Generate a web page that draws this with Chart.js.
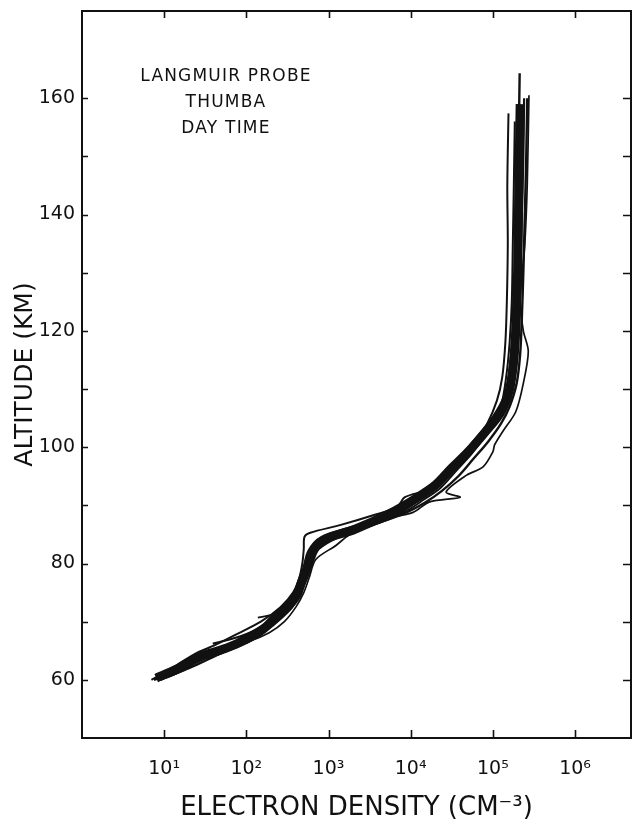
<!DOCTYPE html>
<html>
<head>
<meta charset="utf-8">
<script src="https://cdn.jsdelivr.net/npm/chart.js@4"></script>
<style>
  html, body { margin: 0; padding: 0; background: #fff; }
  #wrap { width: 632px; height: 821px; }
</style>
</head>
<body>
<div id="wrap"><canvas id="chart"></canvas></div>
<script>
// decade ticks on the density axis and labelled altitudes
const densityTicks = [10, 100, 1000, 10000, 100000, 1000000];
const altitudeLabels = [60, 80, 100, 120, 140, 160];
const noteLines = ['LANGMUIR PROBE', 'THUMBA', 'DAY TIME'];

// profile A - middle of the band
const altA = [60.3, 61.8, 63.2, 64.4, 65.5, 67, 68.7, 71, 72.4, 74.5, 76.8, 79, 81.9, 84, 85.9, 88.5, 91, 93.5, 96.3, 99.2, 102.7, 106, 110, 115, 120, 125, 130, 140, 150, 159];
const densA = [8, 14, 21, 33, 58, 100, 160, 235, 310, 410, 470, 540, 620, 850, 2100, 5400, 11000, 20000, 31000, 50000, 82000, 125000, 160000, 180000, 190000, 195000, 200000, 205000, 210000, 215000];

// profile B - upper left edge, left strand at the top
const altB = [60, 61.5, 63, 64.5, 66, 68, 70, 72.5, 75, 77.5, 80, 82.5, 84.6, 85.3, 86.6, 88.3, 89.7, 91.4, 92.8, 95, 98, 101, 104, 108, 112, 118, 125, 135, 145, 157.4];
const densB = [7, 11, 16, 24, 42, 80, 150, 260, 370, 440, 480, 500, 510, 600, 1380, 3500, 6800, 8500, 17000, 25000, 40000, 60000, 85000, 112000, 130000, 142000, 148000, 152000, 150000, 155000];

// profile C - lower right edge, loop near 91 km, bulge near 116 km
const altC = [60.3, 61.6, 63.5, 64.3, 66.4, 68.1, 70, 72.5, 75, 77.5, 80.7, 83.1, 84.9, 86.3, 87.5, 88.8, 90.6, 91.4, 92.3, 95.2, 96.6, 99.2, 100.4, 102.7, 106.1, 111, 116.5, 120, 125, 135, 145, 160.5];
const densC = [10, 15, 28, 45, 100, 190, 290, 400, 500, 580, 700, 1230, 1780, 3000, 4300, 10700, 17000, 40000, 27000, 48000, 76000, 100000, 105000, 132000, 190000, 235000, 270000, 235000, 215000, 245000, 262000, 275000];

// profile D - reaches highest
const altD = [60, 61.5, 63, 64.5, 66, 68, 70, 72, 74, 76, 78, 80, 82, 84, 86, 88, 90, 92, 94, 97, 100, 103, 106, 110, 115, 120, 130, 140, 150, 164.3];
const densD = [9, 16, 24, 40, 70, 120, 190, 270, 360, 440, 500, 560, 640, 900, 2500, 6000, 10000, 15000, 24000, 38000, 62000, 92000, 130000, 150000, 165000, 175000, 190000, 200000, 205000, 212000];

// profile E
const altE = [60.5, 62, 63.5, 65, 66.5, 68.5, 70.5, 72.5, 74.5, 76.5, 78.5, 80.5, 82.5, 84.5, 86.5, 88.5, 90.5, 92.5, 95, 98, 101, 104, 107, 111, 116, 122, 130, 140, 150, 160];
const densE = [11, 20, 34, 58, 105, 175, 260, 360, 440, 510, 580, 650, 760, 1300, 3200, 8000, 15000, 24000, 38000, 58000, 88000, 125000, 160000, 195000, 215000, 225000, 235000, 245000, 255000, 262000];

// profile F - starts at 66 km
const altF = [66.2, 67.5, 69, 71, 73, 75, 77, 79, 81, 83, 85, 87, 89, 91, 93, 96, 99, 102, 106, 110, 115, 120, 130, 140, 150, 160];
const densF = [39, 85, 150, 220, 300, 380, 450, 510, 580, 700, 1300, 3800, 8000, 13000, 21000, 33000, 52000, 78000, 120000, 155000, 185000, 200000, 215000, 225000, 235000, 240000];

// profile G - starts at 70.7 km
const altG = [70.7, 71.5, 73, 75, 77, 79, 81, 83, 85, 87, 89, 91, 93, 96, 99, 103, 107, 112, 118, 125, 135, 145, 156];
const densG = [138, 250, 330, 400, 460, 520, 600, 720, 1500, 4200, 8800, 14500, 23000, 36000, 56000, 90000, 125000, 145000, 160000, 170000, 175000, 180000, 185000];

// profile H
const altH = [60, 61, 62.5, 64, 65.5, 67.5, 69.5, 71.5, 73.5, 75.5, 77.5, 79.5, 81.5, 83.5, 85, 86.5, 88, 90, 92, 94.5, 97.5, 101, 105, 109, 114, 120, 128, 138, 148, 158];
const densH = [7.5, 12, 19, 28, 52, 95, 165, 245, 335, 420, 480, 530, 580, 680, 1000, 2200, 4500, 9000, 15000, 23000, 36000, 58000, 98000, 140000, 165000, 180000, 190000, 195000, 200000, 205000];

const sup = { 1: '\u00b9', 2: '\u00b2', 3: '\u00b3', 4: '\u2074', 5: '\u2075', 6: '\u2076' };
const ink = '#111';
const font = 'DejaVu Sans';

const toPoints = (alts, dens) => alts.map((a, i) => ({ x: dens[i], y: a }));

const profile = (alts, dens, width, extra) => Object.assign({
  data: toPoints(alts, dens),
  borderColor: ink,
  borderWidth: width,
  pointRadius: 0,
  tension: 0.3,
  fill: false,
}, extra || {});

// frame with inward ticks, plus the note in the upper left
const framePlugin = {
  id: 'frame',
  afterDraw(chart) {
    const { ctx, chartArea: a, scales: { x, y } } = chart;
    ctx.save();
    ctx.strokeStyle = ink;
    ctx.lineWidth = 2;
    ctx.strokeRect(a.left, a.top, a.right - a.left, a.bottom - a.top);
    ctx.lineWidth = 1.6;
    ctx.beginPath();
    densityTicks.forEach(v => {
      const px = Math.round(x.getPixelForValue(v)) + 0.5;
      ctx.moveTo(px, a.bottom); ctx.lineTo(px, a.bottom - 8);
      ctx.moveTo(px, a.top); ctx.lineTo(px, a.top + 7);
    });
    for (let v = 60; v <= 160; v += 10) {
      const py = Math.round(y.getPixelForValue(v)) + 0.5;
      ctx.moveTo(a.left, py); ctx.lineTo(a.left + 6, py);
      ctx.moveTo(a.right, py); ctx.lineTo(a.right - 8, py);
    }
    ctx.stroke();

    ctx.fillStyle = ink;
    ctx.font = '17px "' + font + '"';
    ctx.textAlign = 'center';
    ctx.textBaseline = 'middle';
    ctx.letterSpacing = '1.2px';
    noteLines.forEach((t, i) => {
      ctx.fillText(t, a.left + 144, a.top + 66 + i * 26);
    });
    ctx.restore();
  },
};

new Chart(document.getElementById('chart'), {
  type: 'line',
  data: {
    datasets: [
      profile(altA, densA, 9),
      profile(altB, densB, 2),
      profile(altC, densC, 1.7),
      profile(altD, densD, 2.4),
      profile(altE, densE, 2.4),
      profile(altF, densF, 2.2),
      profile(altG, densG, 2),
      profile(altH, densH, 2.6),
      // speckle inside the dark band
      profile(altA, densA, 1.6, { borderColor: '#fff', borderDash: [1.5, 4] }),
    ],
  },
  options: {
    responsive: true,
    maintainAspectRatio: false,
    animation: false,
    layout: { padding: { top: 11, right: 1, left: 0, bottom: 0 } },
    plugins: {
      legend: { display: false },
      tooltip: { enabled: false },
    },
    scales: {
      x: {
        type: 'logarithmic',
        min: 1,
        max: 4.8e6,
        grid: { display: false, drawTicks: false },
        border: { display: false },
        afterBuildTicks: scale => {
          scale.ticks = densityTicks.map(v => ({ value: v }));
        },
        afterFit: scale => {
          scale.height = 83;
          scale.paddingLeft = 0;
          scale.paddingRight = 0;
        },
        ticks: {
          autoSkip: false,
          maxRotation: 0,
          padding: 20,
          color: ink,
          font: { family: font, size: 19 },
          callback: v => '10' + sup[Math.round(Math.log10(v))],
        },
        title: {
          display: true,
          text: 'ELECTRON DENSITY (CM\u207b\u00b3)',
          color: ink,
          font: { family: font, size: 26, lineHeight: 1 },
          padding: { top: 0, bottom: 0 },
        },
      },
      y: {
        min: 50,
        max: 175,
        grid: { display: false, drawTicks: false },
        border: { display: false },
        afterBuildTicks: scale => {
          scale.ticks = altitudeLabels.map(v => ({ value: v }));
        },
        afterFit: scale => {
          scale.width = 82;
          scale.paddingTop = 0;
          scale.paddingBottom = 0;
        },
        ticks: {
          padding: 7,
          color: ink,
          font: { family: font, size: 19 },
        },
        title: {
          display: true,
          text: 'ALTITUDE (KM)',
          color: ink,
          font: { family: font, size: 25 },
          padding: { top: 10, bottom: 0 },
        },
      },
    },
  },
  plugins: [framePlugin],
});
</script>
</body>
</html>
